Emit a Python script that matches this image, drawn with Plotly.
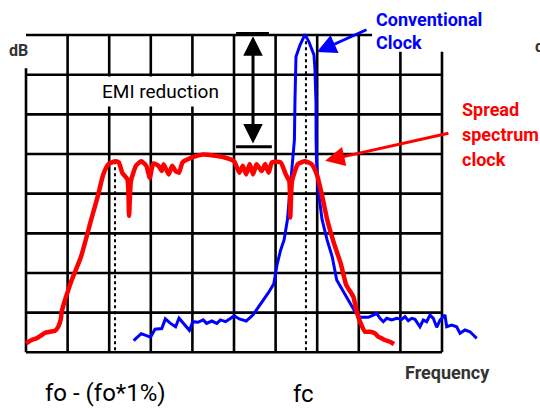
import plotly.graph_objects as go

# Grid units: x = frequency divisions (0..10), y = dB divisions (0..8)
blue_x = [2.587, 2.769, 2.993, 3.101, 3.264, 3.349, 3.474, 3.596, 3.678, 3.803, 3.928, 4.010, 4.135, 4.260,
          4.341, 4.466, 4.589, 4.673, 4.796, 4.921, 5.005, 5.127, 5.293, 5.459, 5.666, 5.832, 5.957, 6.038,
          6.120, 6.204, 6.286, 6.370, 6.411, 6.452, 6.466, 6.478, 6.490, 6.587, 6.707, 6.803, 6.923, 6.947,
          6.971, 6.974, 6.983, 7.031, 7.115, 7.238, 7.363, 7.469, 7.668, 7.909, 8.029, 8.228, 8.349, 8.430,
          8.510, 8.589, 8.671, 8.791, 8.911, 9.031, 9.111, 9.190, 9.272, 9.351, 9.471, 9.550, 9.632, 9.712,
          9.791, 9.873, 9.952, 10.072, 10.113, 10.233, 10.353, 10.433, 10.553, 10.673, 10.753, 10.834]
blue_y = [0.295, 0.469, 0.383, 0.582, 0.600, 0.842, 0.729, 0.643, 0.860, 0.703, 0.555, 0.772, 0.756, 0.817,
          0.729, 0.789, 0.729, 0.817, 0.772, 0.860, 0.920, 0.842, 0.789, 0.946, 1.251, 1.510, 1.727, 2.226,
          2.574, 2.834, 3.356, 4.312, 4.831, 5.353, 6.362, 7.118, 7.451, 7.748, 8.016, 7.824, 7.496, 7.118,
          6.286, 5.353, 4.831, 4.049, 3.356, 2.834, 2.403, 1.823, 1.445, 1.024, 0.883, 0.883, 0.940, 0.983,
          0.857, 0.772, 0.857, 0.814, 0.857, 0.832, 0.898, 0.797, 0.857, 0.832, 0.645, 0.814, 0.772, 0.940,
          0.857, 0.630, 0.814, 0.940, 0.645, 0.688, 0.645, 0.479, 0.562, 0.519, 0.436, 0.353]

red_x = [0.000, 0.137, 0.257, 0.377, 0.457, 0.577, 0.697, 0.776, 0.841, 0.858, 0.938, 1.017, 1.099, 1.320,
         1.570, 1.733, 1.858, 1.983, 2.149, 2.231, 2.313, 2.438, 2.478, 2.522, 2.644, 2.769, 2.892, 2.976,
         3.058, 3.183, 3.264, 3.308, 3.430, 3.514, 3.596, 3.680, 3.762, 4.010, 4.260, 4.507, 4.755, 5.005,
         5.127, 5.212, 5.293, 5.377, 5.459, 5.541, 5.666, 5.750, 5.832, 5.913, 6.120, 6.245, 6.329, 6.353,
         6.394, 6.536, 6.702, 6.865, 6.990, 7.115, 7.238, 7.404, 7.570, 7.695, 7.868, 7.950, 8.029, 8.149,
         8.269, 8.389, 8.469, 8.550, 8.630, 8.750, 8.846]
red_y = [0.227, 0.310, 0.353, 0.436, 0.494, 0.519, 0.545, 0.645, 0.857, 1.024, 1.319, 1.571, 1.823, 2.403,
         3.356, 3.964, 4.486, 4.745, 4.816, 4.788, 4.529, 4.355, 3.442, 4.312, 4.702, 4.816, 4.702, 4.397,
         4.763, 4.702, 4.571, 4.745, 4.486, 4.702, 4.571, 4.529, 4.788, 4.919, 4.987, 4.962, 4.919, 4.816,
         4.529, 4.702, 4.486, 4.745, 4.486, 4.745, 4.571, 4.745, 4.529, 4.788, 4.788, 4.486, 4.312, 3.399,
         4.312, 4.745, 4.816, 4.745, 4.486, 3.964, 3.356, 2.748, 2.226, 1.707, 1.402, 1.024, 0.772, 0.519,
         0.519, 0.479, 0.393, 0.353, 0.310, 0.267, 0.209]

fo_marker = 2.14      # fo - (fo*1%)
fc_marker = 6.73      # fc
emi_top = 8.0
emi_bottom = 5.18

FONT = "Roboto, Liberation Sans, sans-serif"

fig = go.Figure()
fig.add_trace(go.Scatter(x=blue_x, y=blue_y, mode="lines",
                         line=dict(color="#0000ff", width=3), hoverinfo="skip"))
fig.add_trace(go.Scatter(x=red_x, y=red_y, mode="lines",
                         line=dict(color="#ff0000", width=4.5, shape="spline", smoothing=0.5),
                         hoverinfo="skip"))

grid = dict(color="black", width=2.6)
shapes = []
for k in range(8):
    shapes.append(dict(type="line", x0=0, x1=10, y0=k, y1=k, line=grid, layer="below"))
shapes.append(dict(type="line", x0=0, x1=8.32, y0=8, y1=8, line=grid, layer="below"))
for k in range(11):
    top = 8
    if k == 0:
        top = 7.16
    elif k >= 9:
        top = 7.58
    shapes.append(dict(type="line", x0=k, x1=k, y0=0, y1=top, line=grid, layer="below"))
# dotted markers
shapes.append(dict(type="line", x0=fo_marker, x1=fo_marker, y0=0.05, y1=4.77,
                   line=dict(color="black", width=2, dash="dot"), layer="below"))
shapes.append(dict(type="line", x0=fc_marker, x1=fc_marker, y0=0.05, y1=8,
                   line=dict(color="black", width=2, dash="dot"), layer="below"))
# EMI reduction bars
shapes.append(dict(type="line", x0=5.05, x1=5.84, y0=emi_top + 0.03, y1=emi_top + 0.03,
                   line=dict(color="black", width=3.5)))
shapes.append(dict(type="line", x0=5.05, x1=5.91, y0=emi_bottom, y1=emi_bottom,
                   line=dict(color="black", width=3)))

ann = []
def txt(s, x, y, size, color="black", bold=False, xanchor="center", bg=None):
    d = dict(text=("<b>%s</b>" % s) if bold else s, x=x, y=y, xref="x", yref="y",
             showarrow=False, xanchor=xanchor, yanchor="middle",
             font=dict(family=FONT, size=size, color=color))
    if bg:
        d.update(bgcolor=bg, borderpad=3)
    ann.append(d)

txt("Conventional", 8.356, 8.40, 18, "#0000ff", True, "left")
txt("Clock", 8.356, 7.80, 18, "#0000ff", True, "left")
txt("Spread", 10.433, 6.11, 18, "#ff0000", True, "left")
txt("spectrum", 10.433, 5.48, 18, "#ff0000", True, "left")
txt("clock", 10.433, 4.85, 18, "#ff0000", True, "left")
txt("dB", -0.457, 7.62, 16, "#333333", True, "left")
txt("dB", 12.188, 7.70, 16, "#333333", True, "left")
txt("EMI reduction", 3.233, 6.57, 19, "black", False, "center", bg="white")
txt("Frequency", 10.144, -0.50, 18, "#333333", True, "center")
txt("fo - (fo*1%)", 1.923, -1.03, 24, "black", False, "center")
txt("fc", 6.659, -1.05, 24, "black", False, "center")

# arrows
ann.append(dict(x=6.99, y=7.57, ax=8.22, ay=8.15, xref="x", yref="y", axref="x", ayref="y",
                showarrow=True, arrowhead=2, arrowsize=1.3, arrowwidth=3, arrowcolor="#0000ff", text=""))
ann.append(dict(x=7.19, y=4.83, ax=10.19, ay=5.53, xref="x", yref="y", axref="x", ayref="y",
                showarrow=True, arrowhead=2, arrowsize=1.3, arrowwidth=3, arrowcolor="#ff0000", text=""))
ann.append(dict(x=5.457, y=emi_top - 0.03, ax=5.457, ay=emi_bottom + 0.05, xref="x", yref="y",
                axref="x", ayref="y", showarrow=True, arrowhead=2, startarrowhead=2,
                arrowside="end+start", arrowsize=1.3, startarrowsize=1.3, arrowwidth=3,
                arrowcolor="black", text=""))

fig.update_layout(
    width=540, height=408, margin=dict(l=0, r=0, t=0, b=0),
    paper_bgcolor="white", plot_bgcolor="white", showlegend=False,
    xaxis=dict(range=[-0.625, 12.356], visible=False, fixedrange=True),
    yaxis=dict(range=[-1.404, 8.883], visible=False, fixedrange=True),
    shapes=shapes, annotations=ann,
)
fig.write_html("out.html", config={"displayModeBar": False},
               post_script="document.body.style.margin='0';")
